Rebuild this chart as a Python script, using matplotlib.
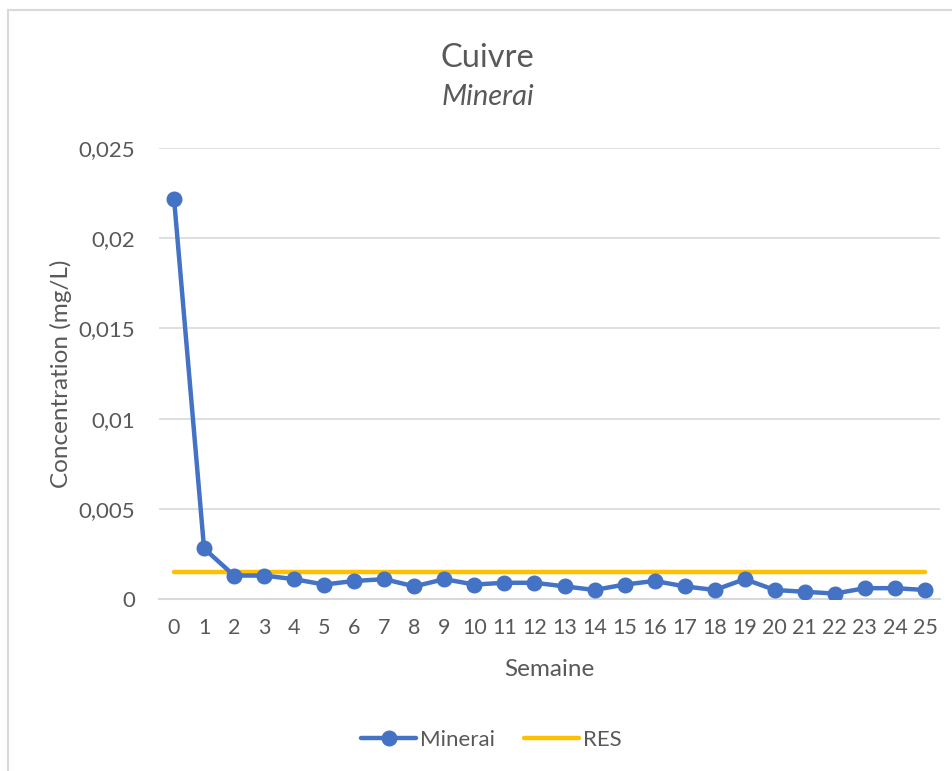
import numpy as np
import matplotlib.pyplot as plt
from matplotlib.patches import Rectangle

plt.rcParams['font.family'] = ['Lato', 'DejaVu Sans']

# weekly copper concentration (mg/L) for the ore sample
semaines = list(range(26))
minerai = [0.0222, 0.0028, 0.0013, 0.0013, 0.0011, 0.0008, 0.0010, 0.0011,
           0.0007, 0.0011, 0.0008, 0.0009, 0.0009, 0.0007, 0.0005, 0.0008,
           0.0010, 0.0007, 0.0005, 0.0011, 0.0005, 0.0004, 0.0003, 0.0006,
           0.0006, 0.0005]
res = [0.0015] * 26

y_ticks = [0, 0.005, 0.01, 0.015, 0.02, 0.025]
y_labels = ['0', '0,005', '0,01', '0,015', '0,02', '0,025']

GRIS = '#595959'
BLEU = '#4472C4'
JAUNE = '#FFC000'

fig = plt.figure(figsize=(9.52, 7.71), dpi=100)
fig.patch.set_facecolor('white')

# chart frame (only top and left edges fall inside the image)
fig.patches.append(Rectangle((8 / 952, -0.1), 1.2, 1.1 - 10 / 771,
                             transform=fig.transFigure, fill=False,
                             edgecolor='#d9d9d9', linewidth=1.5))

ax = fig.add_axes((159 / 952, (771 - 599) / 771, 781 / 952, 451 / 771))

ax.plot(semaines, res, color=JAUNE, linewidth=3.2, solid_capstyle='round',
        label='RES', zorder=3)
ax.plot(semaines, minerai, color=BLEU, linewidth=3.2, marker='o',
        markersize=10.5, solid_capstyle='round', solid_joinstyle='round',
        label='Minerai', zorder=4)

ax.set_xlim(-0.5, 25.5)
ax.set_ylim(0, 0.025)
ax.set_yticks(y_ticks)
ax.set_yticklabels(y_labels)
ax.set_xticks(semaines)
ax.set_xticklabels([str(s) for s in semaines])
ax.tick_params(length=0, labelsize=15.5, colors=GRIS)
ax.tick_params(axis='y', labelsize=16, pad=17)
ax.tick_params(axis='x', pad=14)

ax.grid(axis='y', color='#d9d9d9', linewidth=1.2)
ax.set_axisbelow(True)
for side in ['top', 'right', 'left']:
    ax.spines[side].set_visible(False)
ax.spines['bottom'].set_color('#d9d9d9')
ax.spines['bottom'].set_linewidth(1.5)

ax.set_xlabel('Semaine', fontsize=17.5, color=GRIS, labelpad=15)
ax.set_ylabel('Concentration (mg/L)', fontsize=17.5, color=GRIS, labelpad=5)

fig.text(487 / 952, 1 - 58 / 771, 'Cuivre', ha='center', va='center',
         fontsize=23.5, color=GRIS)
fig.text(488 / 952, 1 - 97 / 771, 'Minerai', ha='center', va='center',
         fontsize=21, color=GRIS, style='italic')

handles, labels = ax.get_legend_handles_labels()
fig.legend(handles[::-1], labels[::-1], loc='center',
           bbox_to_anchor=(491 / 952, 1 - 740 / 771), ncol=2, frameon=False,
           fontsize=16, labelcolor=GRIS, handlelength=2.5, handletextpad=0.15,
           columnspacing=1.3)

fig.savefig('out.png', dpi=100)
